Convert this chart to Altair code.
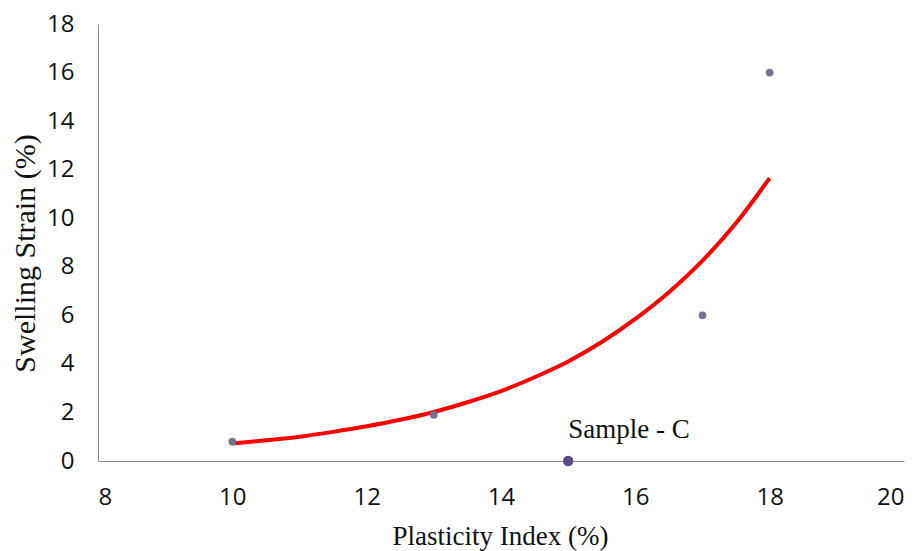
import altair as alt
import pandas as pd

# Measured samples
pi_vals = [10, 13, 15, 17, 18]
strain_vals = [0.8, 1.9, 0.0, 6.0, 16.0]
sample_ids = ["A", "B", "C", "D", "E"]

# Trend curve
curve_x = [10, 10.5, 11, 11.5, 12, 12.5, 13, 13.5, 14, 14.5, 15, 15.5, 16, 16.5, 17, 17.5, 18]
curve_y = [0.72, 0.85, 1.0, 1.2, 1.43, 1.7, 2.02, 2.42, 2.88, 3.45, 4.1, 4.9, 5.85, 6.95, 8.25, 9.8, 11.65]

label_text = ["Sample - C"]
label_x = [15]
label_y = [0]

pts = pd.DataFrame({"x": pi_vals, "y": strain_vals, "id": sample_ids})
curve = pd.DataFrame({"x": curve_x, "y": curve_y})
lab = pd.DataFrame({"x": label_x, "y": label_y, "t": label_text})

xs = alt.Scale(domain=[8, 20], nice=False, zero=False)
ys = alt.Scale(domain=[0, 18], nice=False)

xax = alt.Axis(values=[8, 10, 12, 14, 16, 18, 20], format="d", ticks=False, grid=False,
               domainColor="#8c8c8c", labelFont="Open Sans", labelFontSize=24,
               labelColor="#111", labelPadding=24, title="Plasticity Index (%)",
               titleFont="Liberation Serif", titleFontSize=27, titleFontWeight="normal",
               titleColor="#111", titleX=402, titleY=75, titleBaseline="middle")
yax = alt.Axis(values=list(range(0, 19, 2)), format="d", ticks=False, grid=False,
               domainColor="#8c8c8c", labelFont="Open Sans", labelFontSize=24,
               labelColor="#111", labelPadding=24, title="Swelling Strain (%)",
               titleFont="Liberation Serif", titleFontSize=30, titleFontWeight="normal",
               titleColor="#111", titleX=-73, titleY=229, titleBaseline="middle")

line = alt.Chart(curve).mark_line(color="#ff0000", strokeWidth=4, interpolate="monotone").encode(
    x=alt.X("x:Q", scale=xs, axis=xax),
    y=alt.Y("y:Q", scale=ys, axis=yax),
)

others = alt.Chart(pts).transform_filter("datum.id != 'C'").mark_circle(
    size=60, color="#74748e", opacity=1).encode(x=alt.X("x:Q", scale=xs), y=alt.Y("y:Q", scale=ys))

sc = alt.Chart(pts).transform_filter("datum.id == 'C'").mark_circle(
    size=110, color="#5b4b8a", opacity=1).encode(x=alt.X("x:Q", scale=xs), y=alt.Y("y:Q", scale=ys))

txt = alt.Chart(lab).mark_text(font="Liberation Serif", fontSize=27, color="#111",
                               align="left", dx=0, dy=-31).encode(
    x=alt.X("x:Q", scale=xs), y=alt.Y("y:Q", scale=ys), text="t:N")

chart = alt.layer(line, others, sc, txt).properties(
    width=806, height=437,
    background="white",
    autosize=alt.AutoSizeParams(type="none"),
    padding={"left": 98, "top": 24, "right": 15, "bottom": 90},
).configure_view(stroke=None)

chart.save("out.html", embed_options={"renderer": "svg", "actions": False})
